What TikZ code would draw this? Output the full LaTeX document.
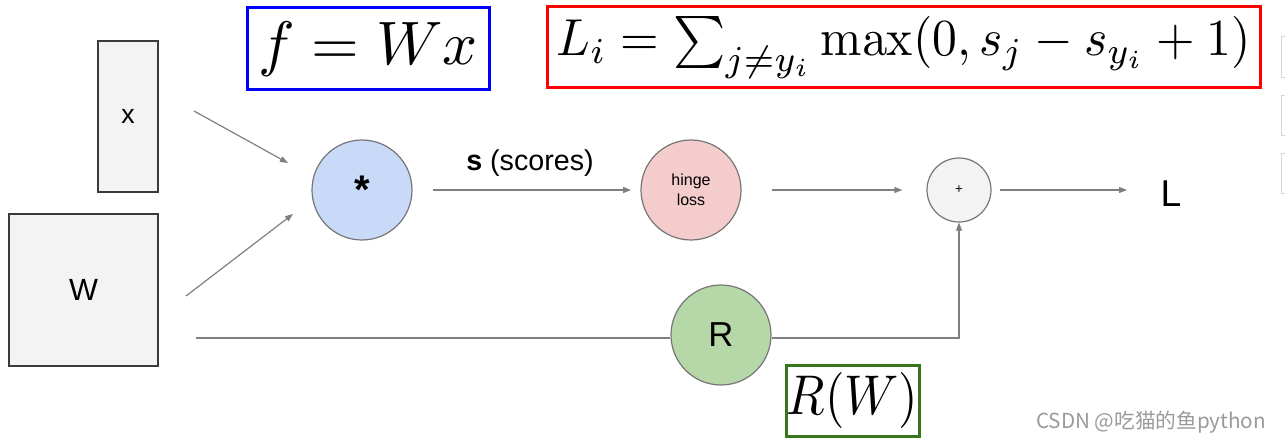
\documentclass[tikz,border=0pt]{standalone}
\usepackage{graphicx}
\usepackage[no-math]{fontspec}
\newfontfamily\arial{Liberation Sans}
\newfontfamily\cjk{Noto Sans CJK SC}
\usetikzlibrary{arrows.meta}
\definecolor{boxfill}{HTML}{F3F3F3}
\definecolor{boxborder}{HTML}{3A3A3A}
\definecolor{circborder}{HTML}{767676}
\definecolor{linegray}{HTML}{7F7F7F}
\definecolor{mulfill}{HTML}{C9DAF8}
\definecolor{hingefill}{HTML}{F4CCCC}
\definecolor{plusfill}{HTML}{F3F3F3}
\definecolor{regfill}{HTML}{B6D7A8}
\definecolor{rwgreen}{HTML}{38761D}
\definecolor{wmgray}{HTML}{9A9A9A}
\definecolor{edgegray}{HTML}{D6D6D6}
\begin{document}
\begin{tikzpicture}[x=0.75pt,y=-0.75pt,
  matbox/.style={draw=boxborder, fill=boxfill, line width=0.9pt, inner sep=0pt,
    font=\arial\fontsize{20}{22}\selectfont},
  opnode/.style={circle, draw=circborder, line width=0.9pt, inner sep=0pt},
  conn/.style={draw=linegray, line width=0.9pt},
  arr/.style={conn, -{Triangle[length=6pt,width=4.5pt]}},
  mathbox/.style={line width=2.25pt, inner sep=0pt},
  lbl/.style={inner sep=0pt, font=\arial}
]
\useasboundingbox (0,0) rectangle (1285,442);

% partial UI boxes at right edge
\foreach \ya/\yb in {36/77,95/135,153/193}
  \draw[edgegray, line width=0.6pt] (1281,\ya) rectangle (1300,\yb);

% formula boxes
\node[mathbox, draw=blue, minimum width=181.5pt, minimum height=61.5pt] (fwx) at (368,49)
  {\scalebox{4.6}{$f = Wx$}};
\node[mathbox, draw=red, minimum width=534.75pt, minimum height=60.75pt] (loss) at (903.5,47.5)
  {\scalebox{3.72}[3.9]{$L_i = \sum_{j\neq y_i}\max(0, s_j - s_{y_i} + 1)$}};
\node[mathbox, draw=rwgreen, minimum width=99.75pt, minimum height=53.25pt] (rw) at (852.5,400.5)
  {\scalebox{3.75}[4.2]{$R(W)$}};

% matrices
\node[matbox, minimum width=45pt, minimum height=113.25pt] (xbox) at (128,116.5) {x};
\node[matbox, minimum width=111.75pt, minimum height=114pt, font=\arial\fontsize{23}{26}\selectfont] (wbox) at (83.5,290) {W};

% operation nodes
\node[opnode, fill=mulfill, minimum size=75pt, font=\arial\bfseries\fontsize{30}{32}\selectfont] (mul) at (362,190) {*};
\node[opnode, fill=hingefill, minimum size=75pt, align=center, font=\arial\fontsize{12}{15}\selectfont] (hinge) at (691,190) {hinge\\loss};
\node[opnode, fill=plusfill, minimum size=48pt, font=\arial\fontsize{10}{11}\selectfont] (plus) at (959,190) {+};
\node[opnode, fill=regfill, minimum size=75pt, font=\arial\fontsize{26}{28}\selectfont] (reg) at (721,335) {R};
\node[lbl, font=\arial\fontsize{28}{30}\selectfont] (Lout) at (1171,194) {L};
\node[lbl, font=\arial\fontsize{21.5}{24}\selectfont] (scores) at (530,163) {\textbf{s} (scores)};

% connectors
\coordinate (xa) at (194,111);
\coordinate (xb) at (288,163);
\coordinate (wa) at (186,296);
\coordinate (wb) at (293,214);
\draw[arr] (xa) -- (xb);
\draw[arr] (wa) -- (wb);
\draw[arr, shorten <=15pt, shorten >=7pt] (mul.east) -- (hinge.west);
\draw[arr, shorten <=22.5pt, shorten >=18pt] (hinge.east) -- (plus.west);
\draw[arr, shorten <=6pt, shorten >=25pt] (plus.east) -- (plus.east -| Lout.west);
\coordinate (ra) at (196,338);
\draw[conn] (ra) -- (ra -| reg.west);
\draw[arr] (reg.east |- ra) -| (plus.south);

% watermark
\node[lbl, text=wmgray, font=\cjk\fontsize{15.5}{17}\selectfont] (wm) at (1151,422) {CSDN @吃猫的鱼python};
\end{tikzpicture}
\end{document}
